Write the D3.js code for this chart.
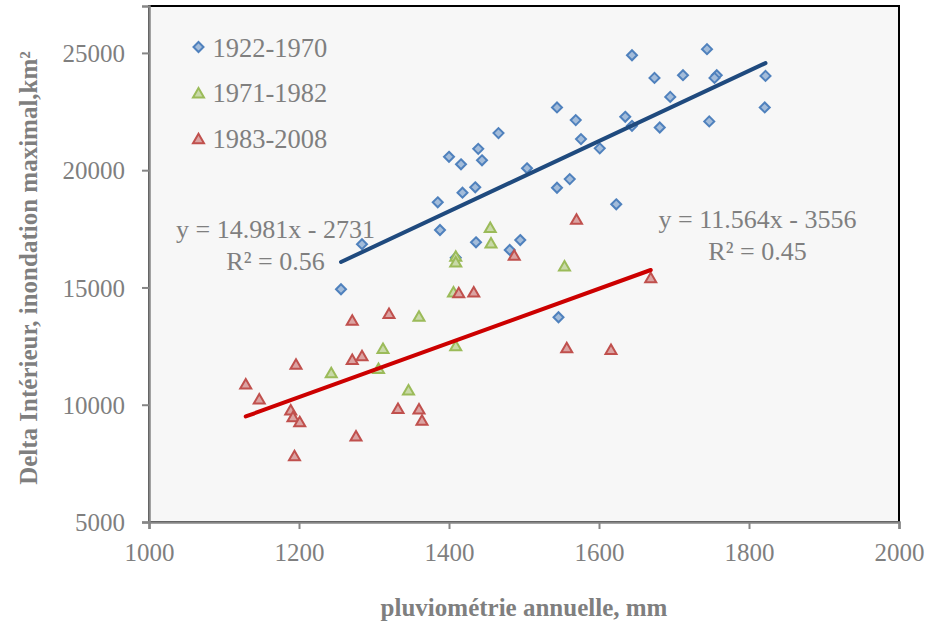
<!DOCTYPE html>
<html>
<head>
<meta charset="utf-8">
<script src="https://cdn.jsdelivr.net/npm/d3@7"></script>
<style>
  body { margin: 0; background: #fff; }
  svg text { font-family: "Liberation Serif", "Times New Roman", serif; fill: #7f7f7f; }
</style>
</head>
<body>
<div id="chart"></div>
<script>
// series: [pluviometrie mm, surface km2]
var serie1922 = [
  [1256,14925],[1284,16845],[1385,18630],[1388,17450],[1409,16270],[1418,19040],
  [1435,19270],[1436,16925],[1481,16600],[1495,17020],[1400,20570],[1416,20250],
  [1439,20910],[1444,20420],[1466,21580],[1504,20080],[1544,22675],[1569,22135],
  [1576,21325],[1601,20930],[1544,19250],[1561,19620],[1644,24900],[1635,22275],
  [1644,21890],[1674,23935],[1712,24050],[1695,23125],[1681,21820],[1744,25160],
  [1757,24050],[1754,23935],[1747,22080],[1822,24020],[1821,22675],[1623,18545],
  [1546,13730]
];
var serie1971 = [
  [1455,17565],[1456,16910],[1409,16340],[1409,16100],[1406,14820],[1360,13785],
  [1312,12410],[1409,12525],[1306,11560],[1243,11370],[1346,10635],[1554,15930]
];
var serie1983 = [
  [1487,16385],[1413,14780],[1433,14820],[1320,13900],[1271,13615],[1271,11940],
  [1284,12095],[1196,11740],[1129,10890],[1147,10250],[1189,9785],[1192,9500],
  [1201,9285],[1194,7835],[1276,8675],[1332,9855],[1360,9825],[1364,9345],
  [1570,17920],[1669,15420],[1557,12435],[1616,12370]
];
var seriesNames = ['1922-1970', '1971-1982', '1983-2008'];
var xTicks = [1000, 1200, 1400, 1600, 1800, 2000];
var yTicks = [5000, 10000, 15000, 20000, 25000];
// trendlines from the chart labels
var fit1 = {slope: 14.981, intercept: -2731, r2: '0.56'};
var fit2 = {slope: 11.564, intercept: -3556, r2: '0.45'};

var width = 930, height = 630;
var margin = {top: 6, right: 31, bottom: 108, left: 149};

var svg = d3.select('#chart').append('svg')
    .attr('width', width)
    .attr('height', height);

var x = d3.scaleLinear()
    .domain([1000, 2000])
    .range([margin.left, width - margin.right]);

var y = d3.scaleLinear()
    .domain([5000, 27000])
    .range([height - margin.bottom, margin.top]);

// plot area
svg.append('rect')
    .attr('x', x(1000))
    .attr('y', y(27000))
    .attr('width', x(2000) - x(1000))
    .attr('height', y(5000) - y(27000))
    .attr('fill', '#f7f7f7')
    .attr('stroke', '#000')
    .attr('stroke-width', 2);

var xAxis = svg.append('g')
    .attr('transform', 'translate(0,' + y(5000) + ')')
    .call(d3.axisBottom(x).tickValues(xTicks).tickSize(7).tickPadding(14).tickFormat(d3.format('d')));

var yAxis = svg.append('g')
    .attr('transform', 'translate(' + x(1000) + ',0)')
    .call(d3.axisLeft(y).tickValues(yTicks).tickSize(7).tickPadding(17).tickFormat(d3.format('d')));

[xAxis, yAxis].forEach(function(ax) {
  ax.select('.domain').attr('stroke', '#868686').attr('stroke-width', 2.5);
  ax.selectAll('.tick line').attr('stroke', '#868686').attr('stroke-width', 2);
  ax.selectAll('.tick text')
    .attr('fill', '#7f7f7f')
    .style('font-family', '"Liberation Serif", serif')
    .style('font-size', '25px');
});
yAxis.selectAll('.tick text').attr('dy', '0.35em');

// markers
function diamond(r) {
  return 'M0,' + (-r) + 'L' + r + ',0L0,' + r + 'L' + (-r) + ',0Z';
}
function triangle(w, h) {
  return 'M0,' + (-h / 2) + 'L' + (w / 2) + ',' + (h / 2) + 'L' + (-w / 2) + ',' + (h / 2) + 'Z';
}

var styles = [
  {data: serie1922, path: diamond(5), stroke: '#4f81bd', fill: '#a3bcda'},
  {data: serie1971, path: triangle(11, 9.5), stroke: '#9bbb59', fill: '#c9d9a8'},
  {data: serie1983, path: triangle(11, 9.5), stroke: '#c0504d', fill: '#dba3a2'}
];

styles.forEach(function(s) {
  svg.append('g').selectAll('path')
    .data(s.data)
    .enter().append('path')
      .attr('d', s.path)
      .attr('transform', function(d) { return 'translate(' + x(d[0]) + ',' + y(d[1]) + ')'; })
      .attr('fill', s.fill)
      .attr('stroke', s.stroke)
      .attr('stroke-width', 2);
});

// trendlines over the extent of each series
function trend(data, fit, color) {
  var ext = d3.extent(data, function(d) { return d[0]; });
  svg.append('line')
    .attr('x1', x(ext[0]))
    .attr('y1', y(fit.slope * ext[0] + fit.intercept))
    .attr('x2', x(ext[1]))
    .attr('y2', y(fit.slope * ext[1] + fit.intercept))
    .attr('stroke', color)
    .attr('stroke-width', 4)
    .attr('stroke-linecap', 'round');
}
trend(serie1922, fit1, '#1f4a7e');
trend(serie1983, fit2, '#cc0000');

function eqLabel(fit, cx, by) {
  var t = svg.append('text')
    .attr('text-anchor', 'middle')
    .style('font-size', '26px');
  t.append('tspan').attr('x', cx).attr('y', by)
    .text('y = ' + fit.slope.toFixed(3) + 'x - ' + Math.abs(fit.intercept));
  t.append('tspan').attr('x', cx).attr('y', by + 31.7)
    .text('R² = ' + fit.r2);
}
eqLabel(fit1, 275.5, 238.3);
eqLabel(fit2, 757.5, 228.3);

// legend
var legend = svg.append('g').attr('transform', 'translate(198.5,47)');
styles.forEach(function(s, i) {
  var row = legend.append('g').attr('transform', 'translate(0,' + (i * 45.7) + ')');
  row.append('path')
    .attr('d', s.path)
    .attr('fill', s.fill)
    .attr('stroke', s.stroke)
    .attr('stroke-width', 2);
  row.append('text')
    .attr('x', 14)
    .attr('y', 9.5)
    .style('font-size', '26.5px')
    .text(seriesNames[i]);
});

// axis titles
svg.append('text')
    .attr('x', x(1500))
    .attr('y', 616)
    .attr('text-anchor', 'middle')
    .style('font-size', '25px')
    .style('font-weight', 'bold')
    .text('pluviométrie annuelle, mm');

svg.append('text')
    .attr('transform', 'translate(37,268) rotate(-90)')
    .attr('text-anchor', 'middle')
    .style('font-size', '25px')
    .style('font-weight', 'bold')
    .text('Delta Intérieur, inondation maximal,km²');
</script>
</body>
</html>
